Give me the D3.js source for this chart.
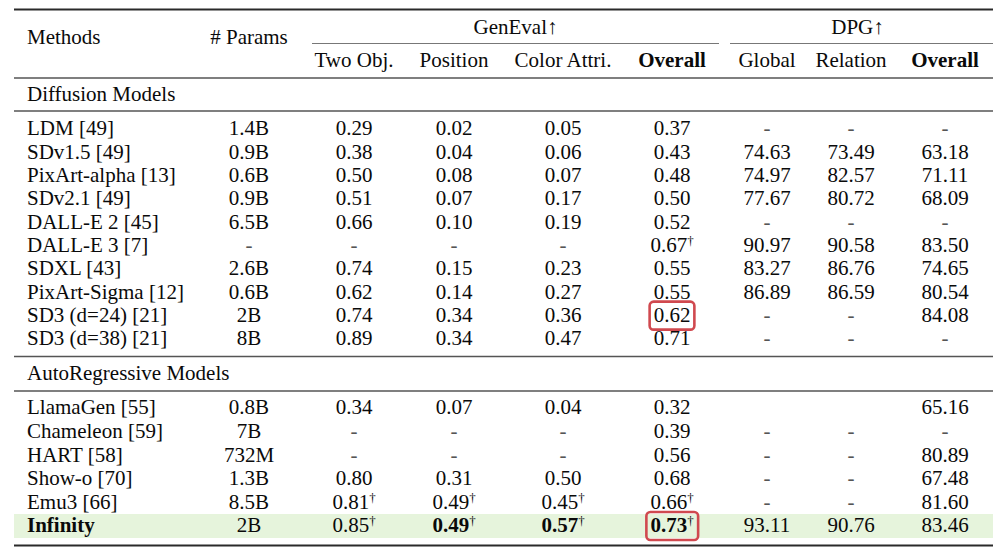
<!DOCTYPE html>
<html><head><meta charset="utf-8">
<script src="https://cdn.jsdelivr.net/npm/d3@7"></script>
<style>
html,body{margin:0;padding:0;background:#fff;}
svg text, svg tspan{font-family:"Liberation Serif","DejaVu Serif",serif;fill:#0a0a0a;}
</style></head>
<body><svg id="chart" width="1000" height="552"></svg>
<script>
// ---- data ----
const columns = ["method","params","twoObj","position","colorAttr","genOverall","dpgGlobal","dpgRelation","dpgOverall"];
const subHeaders = ["Two Obj.","Position","Color Attri.","Overall","Global","Relation","Overall"];
const groupHeaders = ["GenEval↑","DPG↑"];
const sections = ["Diffusion Models","AutoRegressive Models"];

const diffMethods = ["LDM [49]","SDv1.5 [49]","PixArt-alpha [13]","SDv2.1 [49]","DALL-E 2 [45]","DALL-E 3 [7]","SDXL [43]","PixArt-Sigma [12]","SD3 (d=24) [21]","SD3 (d=38) [21]"];
const diffParams = ["1.4B","0.9B","0.6B","0.9B","6.5B","-","2.6B","0.6B","2B","8B"];
const diffTwoObj = ["0.29","0.38","0.50","0.51","0.66","-","0.74","0.62","0.74","0.89"];
const diffPosition = ["0.02","0.04","0.08","0.07","0.10","-","0.15","0.14","0.34","0.34"];
const diffColor = ["0.05","0.06","0.07","0.17","0.19","-","0.23","0.27","0.36","0.47"];
const diffGenOverall = ["0.37","0.43","0.48","0.50","0.52","0.67†","0.55","0.55","0.62","0.71"];
const diffGlobal = ["-","74.63","74.97","77.67","-","90.97","83.27","86.89","-","-"];
const diffRelation = ["-","73.49","82.57","80.72","-","90.58","86.76","86.59","-","-"];
const diffDpgOverall = ["-","63.18","71.11","68.09","-","83.50","74.65","80.54","84.08","-"];

const arMethods = ["LlamaGen [55]","Chameleon [59]","HART [58]","Show-o [70]","Emu3 [66]","Infinity"];
const arParams = ["0.8B","7B","732M","1.3B","8.5B","2B"];
const arTwoObj = ["0.34","-","-","0.80","0.81†","0.85†"];
const arPosition = ["0.07","-","-","0.31","0.49†","0.49†"];
const arColor = ["0.04","-","-","0.50","0.45†","0.57†"];
const arGenOverall = ["0.32","0.39","0.56","0.68","0.66†","0.73†"];
const arGlobal = ["","-","-","-","-","93.11"];
const arRelation = ["","-","-","-","-","90.76"];
const arDpgOverall = ["65.16","-","80.89","67.48","81.60","83.46"];

const highlightRow = "Infinity";
const boldCells = [["Infinity","method"],["Infinity","position"],["Infinity","colorAttr"],["Infinity","genOverall"]];
const boxedCells = [["SD3 (d=24) [21]","genOverall"],["Infinity","genOverall"]];

// ---- build rows ----
function build(m,p,a,b,c,d,e,f,g){
  return m.map((name,i)=>({method:name,params:p[i],twoObj:a[i],position:b[i],colorAttr:c[i],genOverall:d[i],dpgGlobal:e[i],dpgRelation:f[i],dpgOverall:g[i]}));
}
const diffRows = build(diffMethods,diffParams,diffTwoObj,diffPosition,diffColor,diffGenOverall,diffGlobal,diffRelation,diffDpgOverall);
const arRows = build(arMethods,arParams,arTwoObj,arPosition,arColor,arGenOverall,arGlobal,arRelation,arDpgOverall);

// ---- layout ----
const svg = d3.select("#chart");
const FS = 21;
const left = 14, right = 993;
const x = d3.scaleOrdinal().domain(columns).range([27,249,354,454,563,672,767,851,945]);
const yDiff = d3.scaleLinear().domain([0,diffRows.length-1]).range([128,338]);
const yAr = d3.scaleLinear().domain([0,arRows.length-1]).range([407,525]);
const lineColor = "#2a2a2a";

function hline(y,x1,x2,w,c){
  svg.append("line").attr("x1",x1).attr("x2",x2).attr("y1",y).attr("y2",y)
    .attr("stroke",c||lineColor).attr("stroke-width",w);
}

// highlight band for Infinity row
const hiIdx = arMethods.indexOf(highlightRow);
svg.append("rect").attr("x",left).attr("width",right-left)
  .attr("y",yAr(hiIdx)-11).attr("height",24).attr("fill","#e6f4dc");

// rules
hline(9.5,left,right,2);
hline(43.5,312,719,1.2,"#777");
hline(43.5,730,right,1.2,"#777");
hline(78,left,right,1.3,"#555");
hline(111,left,right,1.3,"#555");
hline(356.5,left,right,1.3,"#555");
hline(391,left,right,1.3,"#555");
hline(545.5,left,right,2.2);

function addText(tx,ty,str,anchor,bold){
  const t = svg.append("text").attr("x",tx).attr("y",ty).attr("dy","0.35em")
    .attr("text-anchor",anchor).attr("font-size",FS).attr("font-weight",bold?"bold":"normal");
  const parts = str.split("†");
  t.append("tspan").text(parts[0]);
  if(parts.length>1){
    t.append("tspan").attr("font-size",13).attr("dy","-0.55em").attr("font-weight","normal")
      .style("fill","#0a0a0a").text("†");
  }
  return t;
}

// headers
addText(x("method"),37,"Methods","start");
addText(x("params"),37,"# Params","middle");
addText((312+719)/2,27,groupHeaders[0],"middle");
addText((730+right)/2 - 4,27,groupHeaders[1],"middle");
columns.slice(2).forEach((c,i)=>{
  addText(x(c),60,subHeaders[i],"middle",subHeaders[i]==="Overall");
});
addText(x("method"),94,sections[0],"start");
addText(x("method"),373,sections[1],"start");

function isBold(row,col){return boldCells.some(b=>b[0]===row&&b[1]===col);}
const cellNodes = {};
function drawRows(rows,yScale){
  rows.forEach((r,i)=>{
    columns.forEach(c=>{
      const v = r[c];
      if(v==="") return;
      const t = addText(x(c),yScale(i),v,c==="method"?"start":"middle",isBold(r.method,c));
      if(v==="-") t.select("tspan").style("fill","#555");
      cellNodes[r.method+"|"+c] = {node:t.node(),y:yScale(i)};
    });
  });
}
drawRows(diffRows,yDiff);
drawRows(arRows,yAr);

// boxed cells
boxedCells.forEach(([row,col])=>{
  const cell = cellNodes[row+"|"+col];
  const bb = cell.node.getBBox();
  svg.append("rect").attr("x",bb.x-4).attr("y",cell.y-13).attr("width",bb.width+8).attr("height",28)
    .attr("rx",4).attr("fill","none").attr("stroke","#d0494f").attr("stroke-width",2.6);
});
</script></body></html>
